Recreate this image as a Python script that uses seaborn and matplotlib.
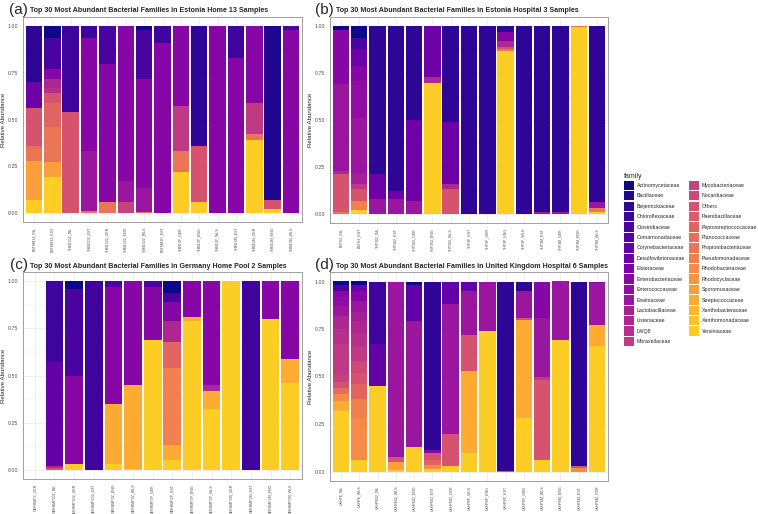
import numpy as np
import pandas as pd
import seaborn as sns
import matplotlib.pyplot as plt
from matplotlib.patches import Patch

# families in legend order (top of the stack first)
families = ["Actinomycetaceae", "Bacillaceae", "Beijerinckiaceae", "Chloroflexaceae",
            "Clostridiaceae", "Comamonadaceae", "Corynebacteriaceae", "Desulfovibrionaceae",
            "Elsteraceae", "Enterobacteriaceae", "Enterococcaceae", "Erwiniaceae",
            "Lactobacillaceae", "Listeriaceae", "LWQ8", "Moraxellaceae",
            "Mycobacteriaceae", "Nocardiaceae", "Others", "Paenibacillaceae",
            "Peptostreptococcaceae", "Planococcaceae", "Propionibacteriaceae", "Pseudomonadaceae",
            "Rhodobacteraceae", "Rhodocyclaceae", "Sporomusaceae", "Streptococcaceae",
            "Xanthobacteraceae", "Xanthomonadaceae", "Yersiniaceae"]

# ---- (a) Estonia Home 13 ----
a_title = "Top 30 Most Abundant Bacterial Families in Estonia Home 13 Samples"
a_samples = ["ESTHM13_INL", "ESTHM13_EST", "THM1302_INL", "THM1302_EST", "THM1302_GER",
             "THM1302_ENG", "THM1302_WLS", "ESTHM1P_EST", "THM13P_GER", "THM13P_ENG",
             "THM13P_WLS", "THM13M_EST", "THM13M_GER", "THM13M_ENG", "THM13M_WLS"]
a_abund = [
    {"Yersiniaceae": .07, "Sporomusaceae": .21, "Propionibacteriaceae": .06, "Planococcaceae": .02,
     "Others": .20, "Desulfovibrionaceae": .14, "Beijerinckiaceae": .30},
    {"Yersiniaceae": .19, "Sporomusaceae": .08, "Propionibacteriaceae": .19, "Peptostreptococcaceae": .13,
     "Others": .05, "LWQ8": .03, "Listeriaceae": .05, "Enterobacteriaceae": .05,
     "Clostridiaceae": .17, "Actinomycetaceae": .06},
    {"Others": .54, "Chloroflexaceae": .46},
    {"Propionibacteriaceae": .01, "Erwiniaceae": .32, "Enterobacteriaceae": .61, "Chloroflexaceae": .06},
    {"Propionibacteriaceae": .06, "Enterobacteriaceae": .74, "Clostridiaceae": .20},
    {"Mycobacteriaceae": .06, "Erwiniaceae": .11, "Enterobacteriaceae": .83},
    {"Propionibacteriaceae": .005, "Erwiniaceae": .125, "Enterobacteriaceae": .59,
     "Clostridiaceae": .26, "Actinomycetaceae": .02},
    {"Enterobacteriaceae": .91, "Chloroflexaceae": .09},
    {"Yersiniaceae": .22, "Propionibacteriaceae": .11, "Moraxellaceae": .24, "Enterobacteriaceae": .43},
    {"Yersiniaceae": .06, "Others": .30, "Beijerinckiaceae": .64},
    {"Enterobacteriaceae": 1.0},
    {"Enterobacteriaceae": .83, "Chloroflexaceae": .17},
    {"Yersiniaceae": .39, "Propionibacteriaceae": .03, "Moraxellaceae": .17, "Enterobacteriaceae": .41},
    {"Yersiniaceae": .02, "Others": .05, "Bacillaceae": .93},
    {"Enterobacteriaceae": .98, "Clostridiaceae": .02},
]

# ---- (b) Estonia Hospital 3 ----
b_title = "Top 30 Most Abundant Bacterial Families in Estonia Hospital 3 Samples"
b_samples = ["ESTH3_INL", "ESTH3_EST", "THP302_INL", "THP302_EST", "THP302_GER",
             "THP302_ENG", "THP302_WLS", "THP3P_EST", "THP3P_GER", "THP3P_ENG",
             "THP3P_WLS", "THP3M_EST", "THP3M_GER", "THP3M_ENG", "THP3M_WLS"]
b_abund = [
    {"Propionibacteriaceae": .01, "Others": .20, "Listeriaceae": .02, "Erwiniaceae": .46,
     "Enterobacteriaceae": .29, "Actinomycetaceae": .02},
    {"Yersiniaceae": .02, "Pseudomonadaceae": .05, "Others": .06, "Moraxellaceae": .03,
     "Lactobacillaceae": .05, "Erwiniaceae": .30, "Enterococcaceae": .20, "Enterobacteriaceae": .08,
     "Desulfovibrionaceae": .09, "Clostridiaceae": .06, "Actinomycetaceae": .06},
    {"Erwiniaceae": .08, "Desulfovibrionaceae": .13, "Beijerinckiaceae": .79},
    {"Erwiniaceae": .08, "Desulfovibrionaceae": .04, "Beijerinckiaceae": .88},
    {"Erwiniaceae": .07, "Desulfovibrionaceae": .43, "Beijerinckiaceae": .50},
    {"Yersiniaceae": .70, "Listeriaceae": .03, "Desulfovibrionaceae": .27},
    {"Others": .13, "Listeriaceae": .03, "Desulfovibrionaceae": .33, "Beijerinckiaceae": .51},
    {"Beijerinckiaceae": 1.0},
    {"Beijerinckiaceae": 1.0},
    {"Yersiniaceae": .87, "Propionibacteriaceae": .01, "Others": .01, "Listeriaceae": .03,
     "Enterobacteriaceae": .05, "Beijerinckiaceae": .03},
    {"Beijerinckiaceae": 1.0},
    {"Erwiniaceae": .01, "Beijerinckiaceae": .99},
    {"Erwiniaceae": .01, "Beijerinckiaceae": .99},
    {"Yersiniaceae": .995, "Propionibacteriaceae": .005},
    {"Yersiniaceae": .01, "Propionibacteriaceae": .02, "Erwiniaceae": .03, "Beijerinckiaceae": .94},
]

# ---- (c) Germany Home Pool 2 ----
c_title = "Top 30 Most Abundant Bacterial Families in Germany Home Pool 2 Samples"
c_samples = ["GERHMP2_GER", "GERHMP202_INL", "GERHMP202_GER", "GERHMP202_EST", "GERHMP2Z_ENG",
             "GERHMP2Z_WLS", "GERHMP2P_GER", "GERHMP2P_EST", "GERHMP2P_ENG", "GERHMP2P_WLS",
             "GERHMP2M_GER", "GERHMP2M_EST", "GERHMP2M_ENG", "GERHMP2M_WLS"]
c_abund = [
    {},
    {"Others": .01, "Listeriaceae": .01, "Corynebacteriaceae": .55, "Chloroflexaceae": .43},
    {"Yersiniaceae": .03, "Enterobacteriaceae": .47, "Clostridiaceae": .46, "Actinomycetaceae": .04},
    {"Chloroflexaceae": 1.0},
    {"Yersiniaceae": .03, "Streptococcaceae": .32, "Enterobacteriaceae": .62, "Clostridiaceae": .03},
    {"Yersiniaceae": .005, "Streptococcaceae": .445, "Enterobacteriaceae": .55},
    {"Yersiniaceae": .69, "Enterobacteriaceae": .28, "Clostridiaceae": .03},
    {"Yersiniaceae": .05, "Streptococcaceae": .08, "Pseudomonadaceae": .41, "Peptostreptococcaceae": .14,
     "Listeriaceae": .11, "Enterobacteriaceae": .10, "Clostridiaceae": .05, "Actinomycetaceae": .06},
    {"Yersiniaceae": .79, "Streptococcaceae": .02, "Enterobacteriaceae": .19},
    {"Yersiniaceae": .32, "Streptococcaceae": .10, "Listeriaceae": .03, "Enterobacteriaceae": .55},
    {"Yersiniaceae": 1.0},
    {"Chloroflexaceae": 1.0},
    {"Yersiniaceae": .80, "Enterobacteriaceae": .20},
    {"Yersiniaceae": .46, "Streptococcaceae": .13, "Enterobacteriaceae": .41},
]

# ---- (d) United Kingdom Hospital 6 ----
d_title = "Top 30 Most Abundant Bacterial Families in United Kingdom Hospital 6 Samples"
d_samples = ["UKHP6_INL", "UKHP6_WLS", "UKHP602_INL", "UKHP602_WLS", "UKHP602_ENG",
             "UKHP602_EST", "UKHP602_GER", "UKHP6P_WLS", "UKHP6P_ENG", "UKHP6P_EST",
             "UKHP6P_GER", "UKHP6M_WLS", "UKHP6M_ENG", "UKHP6M_EST", "UKHP6M_GER"]
d_abund = [
    {"Yersiniaceae": .32, "Streptococcaceae": .05, "Rhodobacteraceae": .04, "Planococcaceae": .03,
     "Others": .03, "Mycobacteriaceae": .04, "Moraxellaceae": .16, "LWQ8": .08, "Listeriaceae": .07,
     "Erwiniaceae": .05, "Enterococcaceae": .05, "Enterobacteriaceae": .03, "Clostridiaceae": .03,
     "Actinomycetaceae": .02},
    {"Yersiniaceae": .06, "Rhodobacteraceae": .22, "Pseudomonadaceae": .10, "Peptostreptococcaceae": .08,
     "Others": .06, "Nocardiaceae": .06, "Moraxellaceae": .08, "LWQ8": .07, "Listeriaceae": .06,
     "Lactobacillaceae": .05, "Erwiniaceae": .06, "Enterobacteriaceae": .05,
     "Desulfovibrionaceae": .03, "Actinomycetaceae": .02},
    {"Yersiniaceae": .45, "Corynebacteriaceae": .22, "Chloroflexaceae": .33},
    {"Yersiniaceae": .01, "Sporomusaceae": .04, "Others": .025, "Erwiniaceae": .925},
    {"Yersiniaceae": .13, "Erwiniaceae": .66, "Corynebacteriaceae": .19, "Actinomycetaceae": .02},
    {"Yersiniaceae": .015, "Rhodobacteraceae": .02, "Peptostreptococcaceae": .025, "Others": .035,
     "Enterobacteriaceae": .02, "Beijerinckiaceae": .885},
    {"Yersiniaceae": .03, "Others": .17, "Erwiniaceae": .68, "Corynebacteriaceae": .12},
    {"Yersiniaceae": .10, "Streptococcaceae": .43, "Others": .19, "Erwiniaceae": .23,
     "Corynebacteriaceae": .05},
    {"Yersiniaceae": .74, "Erwiniaceae": .26},
    {"Others": .005, "Beijerinckiaceae": .995},
    {"Yersiniaceae": .28, "Streptococcaceae": .52, "Others": .01, "Erwiniaceae": .14,
     "Beijerinckiaceae": .05},
    {"Yersiniaceae": .06, "Others": .42, "Moraxellaceae": .02, "Erwiniaceae": .31,
     "Enterobacteriaceae": .19},
    {"Yersiniaceae": .69, "Erwiniaceae": .31},
    {"Rhodobacteraceae": .02, "Others": .01, "Beijerinckiaceae": .97},
    {"Yersiniaceae": .66, "Streptococcaceae": .11, "Erwiniaceae": .22, "Enterobacteriaceae": .01},
]

sns.set_style("white")
plt.rcParams['font.family'] = ['Liberation Sans', 'DejaVu Sans']

cmap = plt.get_cmap("plasma")
palette = dict(zip(families, [cmap(v) for v in np.linspace(0, 0.9, len(families))]))

W, H = 758, 514
fig = plt.figure(figsize=(W / 100, H / 100), dpi=100)


def fx(px):
    return px / W


def fy(py):
    return 1 - py / H


def draw_panel(box, samples, abund, title, tag, title_x, title_y):
    left, top, right, bottom = box
    ax = fig.add_axes([fx(left), fy(bottom), fx(right - left), fy(top) - fy(bottom)])
    rows = [(i, fam, v) for i, comp in enumerate(abund) for fam, v in comp.items()]
    df = pd.DataFrame(rows, columns=["pos", "family", "abundance"])

    sns.histplot(data=df, x="pos", weights="abundance", hue="family", hue_order=families,
                 multiple="stack", discrete=True, shrink=0.9, palette=palette,
                 alpha=1, linewidth=0, legend=False, ax=ax)

    n = len(samples)
    ax.set_xlim(-0.6, n - 1 + 0.6)
    ax.set_ylim(-0.05, 1.05)
    ax.set_xticks(range(n))
    ax.set_xticklabels(samples, rotation=90, fontsize=2.6, color="#4d4d4d")
    ax.set_yticks([0, 0.25, 0.5, 0.75, 1.0])
    ax.set_yticklabels(["0.00", "0.25", "0.50", "0.75", "1.00"], fontsize=3.8, color="#4d4d4d")
    ax.set_yticks([0.125, 0.375, 0.625, 0.875], minor=True)
    ax.tick_params(axis="both", which="major", length=2, width=0.5, color="#333333", pad=1.5)
    ax.tick_params(axis="y", which="minor", length=0)
    ax.set_axisbelow(True)
    ax.grid(True, which="major", color="#ebebeb", linewidth=0.6)
    ax.grid(True, which="minor", axis="y", color="#ebebeb", linewidth=0.3)
    ax.set_xlabel("")
    ax.set_ylabel("Relative Abundance", fontsize=4.4, labelpad=1)
    for s in ax.spines.values():
        s.set_color("#a0a0a0")
        s.set_linewidth(0.7)

    fig.text(fx(title_x - 2), fy(title_y + 1.5), tag, fontsize=11, va="baseline", ha="right")
    fig.text(fx(title_x), fy(title_y), title, fontsize=5.1, fontweight="bold",
             va="baseline", ha="left")
    return ax


draw_panel((23, 17, 302, 222), a_samples, a_abund, a_title, "(a)", 30, 12.5)
draw_panel((330, 17, 608, 223), b_samples, b_abund, b_title, "(b)", 336, 12.5)
draw_panel((23, 272, 302, 479), c_samples, c_abund, c_title, "(c)", 30, 267.5)
draw_panel((330, 272, 608, 481), d_samples, d_abund, d_title, "(d)", 336, 267.5)

handles = [Patch(facecolor=palette[f], edgecolor="none") for f in families]
leg = fig.legend(handles, families, title="family", ncol=2, loc="upper left",
                 bbox_to_anchor=(fx(621), fy(170)), frameon=False, fontsize=3.8,
                 title_fontsize=5.0, handlelength=1.9, handleheight=2.35,
                 labelspacing=0.2, handletextpad=0.55, columnspacing=0.7,
                 borderpad=0, alignment="left")

fig.savefig("out.png", dpi=100)
